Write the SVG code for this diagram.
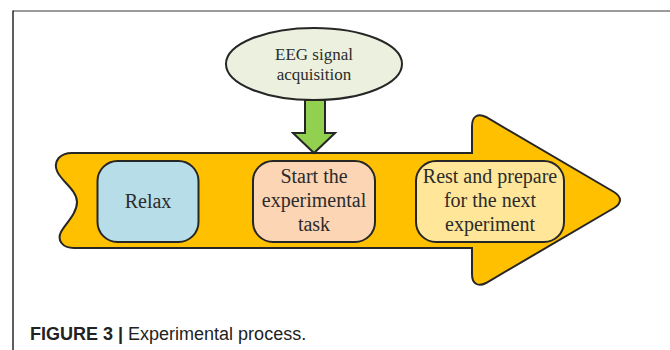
<svg xmlns="http://www.w3.org/2000/svg" width="670" height="350" viewBox="0 0 670 350">
<style>
.st{stroke:#262626;stroke-width:2;}
.box{stroke:#262626;stroke-width:2;}
.t{font-family:"Liberation Serif","Times New Roman",serif;font-size:20px;fill:#2b2b2b;text-anchor:middle;}
.te{font-family:"Liberation Serif","Times New Roman",serif;font-size:17px;fill:#2b2b2b;text-anchor:middle;}
.cap{font-family:"Liberation Sans",Arial,sans-serif;font-size:18px;fill:#222;}
</style>
<rect width="670" height="350" fill="#ffffff"/>
<line x1="13" y1="11" x2="670" y2="11" stroke="#7a7a7a" stroke-width="1.6"/>
<line x1="13" y1="10.5" x2="13" y2="350" stroke="#1a1a1a" stroke-width="1.4"/>
<g id="process-arrow">
<path class="st" fill="#FFC000" d="M72,153 H472 V126 C472,116 478,113 486,117 L614,192 C622,197 622,203 614,208 L486,283 C478,287 472,284 472,274 V248 H74 C62,248 57,240 61,232 C65,224 77,214 77,202 C77,190 61,181 57,171 C53,161 60,153 72,153 Z"/>
</g>
<g id="connectors">
<polygon class="st" fill="#92D050" stroke-width="1.6" points="305,100 325,100 325,133 335,133 314,153 293,133 305,133"/>
</g>
<g id="eeg">
<ellipse class="st" cx="314" cy="64" rx="88" ry="36" fill="#EBF1DE"/>
<text class="te" x="314" y="60">EEG signal</text>
<text class="te" x="314" y="80">acquisition</text>
</g>
<g id="relax">
<rect class="box" x="97.5" y="161" width="101" height="81" rx="20" fill="#B7DDE8"/>
<text class="t" x="148" y="208">Relax</text>
</g>
<g id="start">
<rect class="box" x="253" y="161" width="122" height="81" rx="20" fill="#FCD5B5"/>
<text class="t" x="314" y="183">Start the</text>
<text class="t" x="314" y="207">experimental</text>
<text class="t" x="314" y="231">task</text>
</g>
<g id="rest">
<rect class="box" x="416" y="161" width="148" height="81" rx="20" fill="#FFE699"/>
<text class="t" x="490" y="183">Rest and prepare</text>
<text class="t" x="490" y="207">for the next</text>
<text class="t" x="490" y="231">experiment</text>
</g>
<text class="cap" x="30" y="339.5"><tspan font-weight="bold">FIGURE 3 |</tspan> Experimental process.</text>
</svg>
